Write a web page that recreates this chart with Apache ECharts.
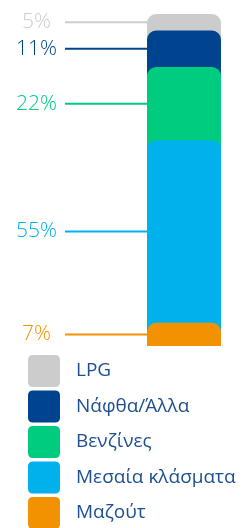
<!DOCTYPE html>
<html><head><meta charset="utf-8">
<script src="https://cdn.jsdelivr.net/npm/echarts@6/dist/echarts.min.js"></script>
<style>html,body{margin:0;padding:0;background:#fff}#c{width:244px;height:528px}</style>
</head><body><div id="c"></div>
<script>
// Data (stack order: bottom to top)
const names = ['Μαζούτ', 'Μεσαία κλάσματα', 'Βενζίνες', 'Νάφθα/Άλλα', 'LPG'];
const values = [7, 55, 22, 11, 5];
const labels = ['7%', '55%', '22%', '11%', '5%'];
const colors = ['#f39200', '#00b1eb', '#00cc7f', '#00448f', '#cccccc'];
const legendOrder = ['LPG', 'Νάφθα/Άλλα', 'Βενζίνες', 'Μεσαία κλάσματα', 'Μαζούτ'];

const cum = [];
let acc = 0;
values.forEach(v => { acc += v; cum.push(acc); });

// Overlapping bars: draw top-most (largest cumulative) first
const barSeries = [];
for (let i = names.length - 1; i >= 0; i--) {
  barSeries.push({
    name: names[i], type: 'bar', data: [cum[i]],
    barWidth: '100%', barGap: '-100%',
    itemStyle: { color: colors[i], borderRadius: [9, 9, 0, 0] },
    silent: true
  });
}

const labelData = values.map((v, i) => [0, cum[i] - v / 2, i]);

const chart = echarts.init(document.getElementById('c'), null, { renderer: 'canvas' });
chart.setOption({
  animation: false,
  grid: { left: 147, width: 74, top: 14, bottom: 182 },
  xAxis: { type: 'category', data: ['x'], show: false },
  yAxis: { type: 'value', min: 0, max: 100, show: false },
  legend: {
    data: legendOrder, orient: 'vertical', left: 28, top: 355, height: 200, width: 216,
    padding: 0,
    itemWidth: 32, itemHeight: 32, itemGap: 3.5,
    icon: 'path://M5,0 H27 Q32,0 32,5 V27 Q32,32 27,32 H5 Q0,32 0,27 V5 Q0,0 5,0 Z',
    textStyle: { color: '#1d4f91', fontSize: 19, fontFamily: 'Open Sans', padding: [0, 0, 0, 11] },
    selectedMode: false
  },
  series: barSeries.concat([{
    type: 'custom', data: labelData, silent: true, z: 5,
    renderItem: function (params, api) {
      const i = api.value(2);
      const pt = api.coord([api.value(0), api.value(1)]);
      const w = api.size([1, 0])[0];
      const xl = pt[0] - w / 2;
      return {
        type: 'group', children: [
          { type: 'line', shape: { x1: 65, y1: pt[1], x2: xl, y2: pt[1] }, style: { stroke: colors[i], lineWidth: 2 } },
          { type: 'text', style: { x: 36.5, y: pt[1], text: labels[i], fill: colors[i], align: 'center', verticalAlign: 'middle', fontSize: 21, fontFamily: 'Open Sans', fontWeight: 300 } }
        ]
      };
    }
  }])
});
</script></body></html>
